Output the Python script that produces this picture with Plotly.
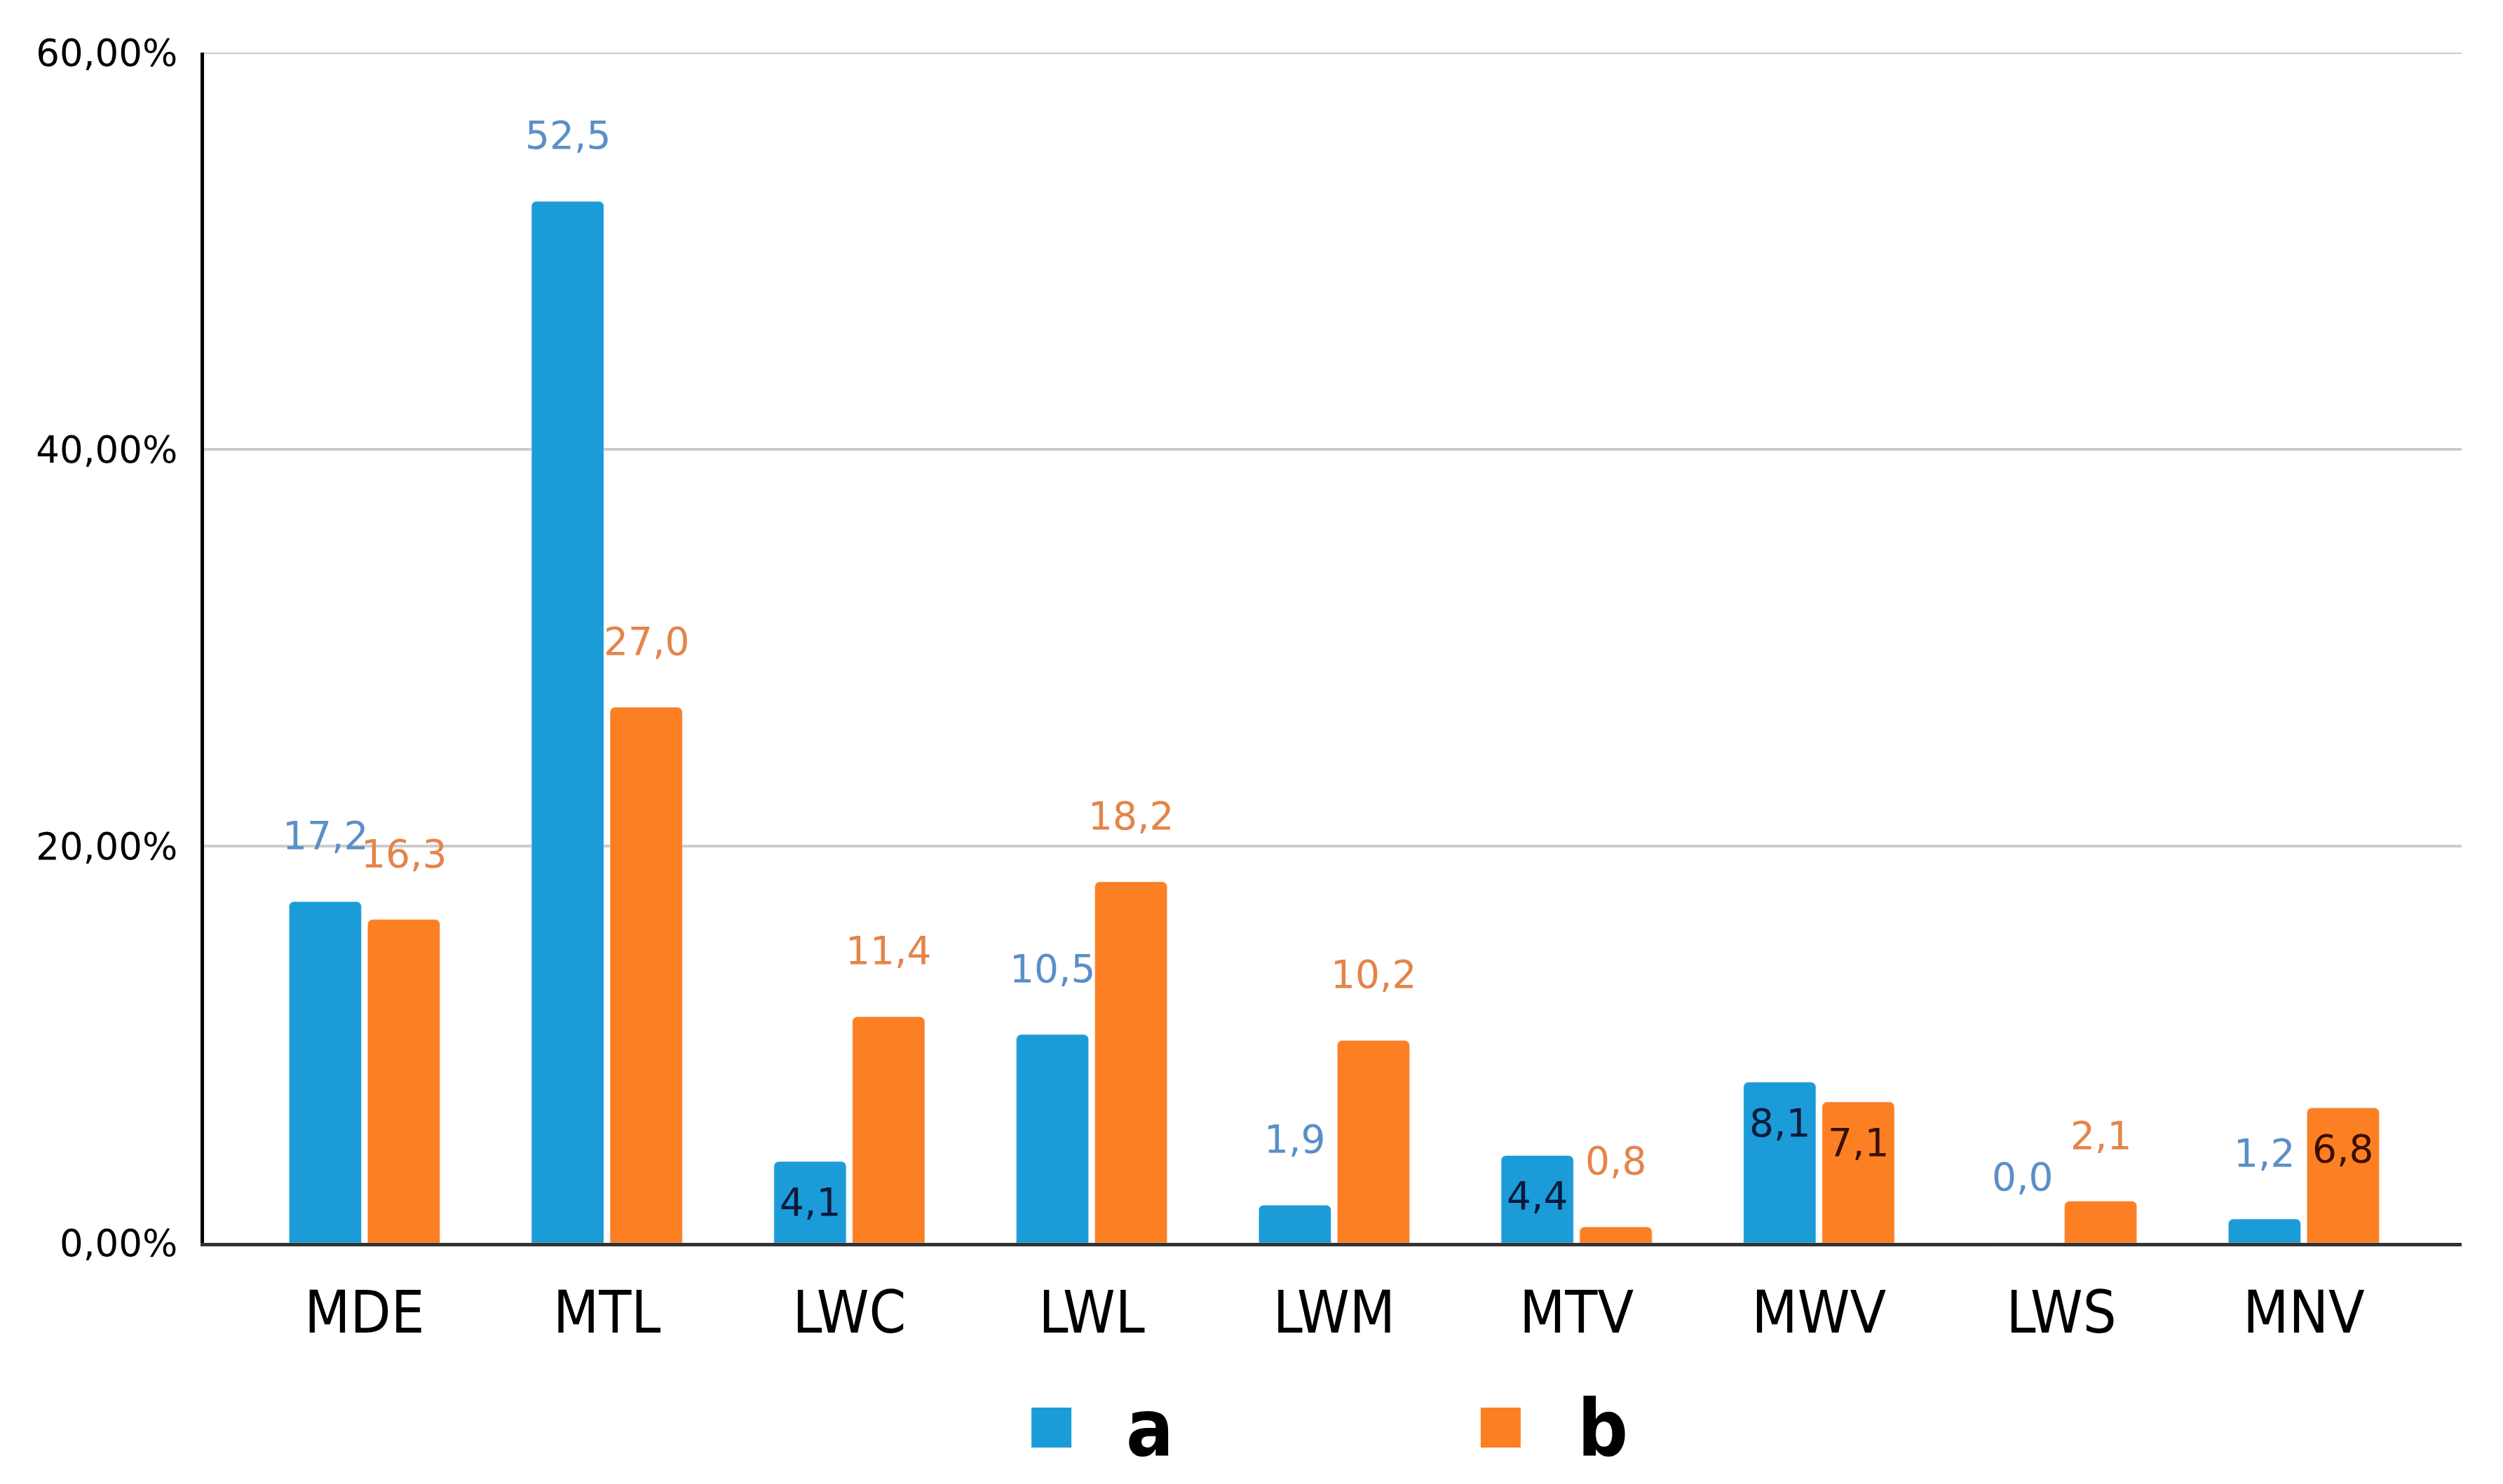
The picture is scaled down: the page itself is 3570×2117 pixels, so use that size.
import plotly.graph_objects as go

categories = ["MDE", "MTL", "LWC", "LWL", "LWM", "MTV", "MWV", "LWS", "MNV"]
series_a = [17.2, 52.5, 4.1, 10.5, 1.9, 4.4, 8.1, 0.0, 1.2]
series_b = [16.3, 27.0, 11.4, 18.2, 10.2, 0.8, 7.1, 2.1, 6.8]
series_names = ["a", "b"]
label_text_a = ["17,2", "52,5", "4,1", "10,5", "1,9", "4,4", "8,1", "0,0", "1,2"]
label_text_b = ["16,3", "27,0", "11,4", "18,2", "10,2", "0,8", "7,1", "2,1", "6,8"]
# which labels sit inside the bar (True) vs above it
inside_a = [False, False, True, False, False, True, True, False, False]
inside_b = [False, False, False, False, False, False, True, False, True]
y_tickvals = [0, 20, 40, 60]
y_ticktext = ["0,00%", "20,00%", "40,00%", "60,00%"]

BLUE = "#1b9cd8"
ORANGE = "#fd7f23"
BLUE_LBL = "#5a8fc8"
ORANGE_LBL = "#e4844a"
BLUE_IN = "#0b1a3c"
ORANGE_IN = "#3a0f00"
FONT = "DejaVu Sans"
FONT_COND = "DejaVu Sans Condensed, DejaVu Sans"

BARGAP = 0.352
BARGROUPGAP = 0.08

fig = go.Figure()
fig.add_trace(go.Bar(x=categories, y=series_a, name=series_names[0],
                     marker=dict(color=BLUE, cornerradius=7), showlegend=False))
fig.add_trace(go.Bar(x=categories, y=series_b, name=series_names[1],
                     marker=dict(color=ORANGE, cornerradius=7), showlegend=False))

slot = (1 - BARGAP) / 2
offsets = [-slot / 2, slot / 2]
annotations = []
for s, (vals, texts, inside, col_out, col_in) in enumerate([
        (series_a, label_text_a, inside_a, BLUE_LBL, BLUE_IN),
        (series_b, label_text_b, inside_b, ORANGE_LBL, ORANGE_IN)]):
    for i, (v, t, ins) in enumerate(zip(vals, texts, inside)):
        annotations.append(dict(
            x=i + offsets[s], y=v, xref="x", yref="y", text=t,
            showarrow=False, yshift=(-58 if ins else 94),
            font=dict(family=FONT, size=55, color=(col_in if ins else col_out)),
            xanchor="center", yanchor="middle"))

# custom legend (large square symbols)
legend_items = [(series_names[0], BLUE, 0.3665, 0.419), (series_names[1], ORANGE, 0.5655, 0.6196)]
shapes = []
for name, col, sx, tx in legend_items:
    shapes.append(dict(type="rect", xref="paper", yref="paper",
                       x0=sx, x1=sx + 0.0177, y0=-0.172, y1=-0.1384,
                       fillcolor=col, line=dict(width=0)))
    annotations.append(dict(x=tx, y=-0.1555, xref="paper", yref="paper", text="<b>" + name + "</b>",
                            showarrow=False, xanchor="center", yanchor="middle",
                            font=dict(family=FONT_COND, size=112, color="#000000")))

# top (60%) gridline, which plotly hides at the range edge
shapes.append(dict(type="line", xref="paper", yref="y", x0=0, x1=1, y0=y_tickvals[-1], y1=y_tickvals[-1],
                   line=dict(color="#cccccc", width=4), layer="below"))

fig.update_layout(
    width=3570, height=2117,
    margin=dict(l=283, r=67, t=67, b=352),
    paper_bgcolor="white", plot_bgcolor="white",
    barmode="group", bargap=BARGAP, bargroupgap=BARGROUPGAP,
    font=dict(family=FONT, color="#000000"),
    annotations=annotations, shapes=shapes,
    showlegend=False,
)
fig.update_xaxes(
    range=[-0.662, 8.651], showgrid=False, showline=True, linecolor="#333333", linewidth=5,
    tickfont=dict(family=FONT_COND, size=84, color="#000000"), ticks="", ticklabelstandoff=22,
    zeroline=False,
)
fig.update_yaxes(
    range=[0, 60], tickvals=y_tickvals, ticktext=y_ticktext,
    showgrid=True, gridcolor="#cccccc", gridwidth=4,
    showline=True, linecolor="#000000", linewidth=5, zeroline=False,
    tickfont=dict(family=FONT, size=53, color="#000000"), ticks="", ticklabelstandoff=22,
)

fig.write_html("out.html")
